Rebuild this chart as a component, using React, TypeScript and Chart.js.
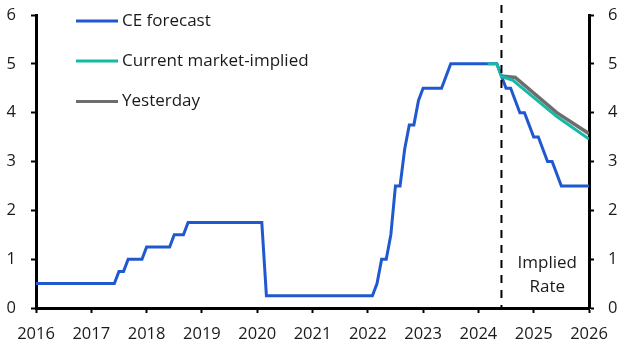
import React, { useEffect, useRef } from 'react';
import { Chart, registerables } from 'chart.js';

Chart.register(...registerables);

// Monthly CE forecast, Jan 2016 .. Jan 2026
const ceStartYear = 2016;
const ceForecast = [
  0.5, 0.5, 0.5, 0.5, 0.5, 0.5, 0.5, 0.5, 0.5, 0.5, 0.5, 0.5, // 2016
  0.5, 0.5, 0.5, 0.5, 0.5, 0.5, 0.75, 0.75, 1.0, 1.0, 1.0, 1.0, // 2017
  1.25, 1.25, 1.25, 1.25, 1.25, 1.25, 1.5, 1.5, 1.5, 1.75, 1.75, 1.75, // 2018
  1.75, 1.75, 1.75, 1.75, 1.75, 1.75, 1.75, 1.75, 1.75, 1.75, 1.75, 1.75, // 2019
  1.75, 1.75, 0.25, 0.25, 0.25, 0.25, 0.25, 0.25, 0.25, 0.25, 0.25, 0.25, // 2020
  0.25, 0.25, 0.25, 0.25, 0.25, 0.25, 0.25, 0.25, 0.25, 0.25, 0.25, 0.25, // 2021
  0.25, 0.25, 0.5, 1.0, 1.0, 1.5, 2.5, 2.5, 3.25, 3.75, 3.75, 4.25, // 2022
  4.5, 4.5, 4.5, 4.5, 4.5, 4.75, 5.0, 5.0, 5.0, 5.0, 5.0, 5.0, // 2023
  5.0, 5.0, 5.0, 5.0, 5.0, 4.75, 4.5, 4.5, 4.25, 4.0, 4.0, 3.75, // 2024
  3.5, 3.5, 3.25, 3.0, 3.0, 2.75, 2.5, 2.5, 2.5, 2.5, 2.5, 2.5, // 2025
  2.5, // Jan 2026
];

const marketDates = [2024.167, 2024.333, 2024.417, 2024.625, 2025.417, 2026.0];
const marketValues = [5.0, 5.0, 4.74, 4.66, 3.92, 3.46];

const yesterdayDates = [2024.417, 2024.667, 2025.417, 2026.0];
const yesterdayValues = [4.75, 4.72, 4.0, 3.57];

const seriesLabels = ['CE forecast', 'Current market-implied', 'Yesterday'];
const seriesColors = ['#2059cf', '#16b8a6', '#6d6d6d'];

const xMin = 2016;
const xMax = 2026;
const yMin = 0;
const yMax = 6;
const cutoffDate = 2024.417;
const annotationLines = ['Implied', 'Rate'];

const FONT = '"Open Sans", sans-serif';

export default function App() {
  const canvasRef = useRef<HTMLCanvasElement | null>(null);

  useEffect(() => {
    document.body.style.margin = '0';
    const canvas = canvasRef.current;
    if (!canvas) return;

    const cePoints = ceForecast.map((v, i) => ({ x: ceStartYear + i / 12, y: v }));
    const marketPoints = marketDates.map((d, i) => ({ x: d, y: marketValues[i] }));
    const yesterdayPoints = yesterdayDates.map((d, i) => ({ x: d, y: yesterdayValues[i] }));

    const overlay = {
      id: 'overlay',
      afterDatasetsDraw(chart: any) {
        const { ctx, chartArea, scales } = chart;
        const x = scales.x.getPixelForValue(cutoffDate);
        ctx.save();
        ctx.strokeStyle = '#000';
        ctx.lineWidth = 2;
        ctx.setLineDash([8, 7]);
        ctx.beginPath();
        ctx.moveTo(x, 5);
        ctx.lineTo(x, chartArea.bottom);
        ctx.stroke();
        ctx.setLineDash([]);

        // annotation text
        ctx.fillStyle = '#1a1a1a';
        ctx.font = `17px ${FONT}`;
        ctx.textAlign = 'center';
        ctx.textBaseline = 'middle';
        const cx = (x + chartArea.right) / 2 + 2;
        ctx.fillText(annotationLines[0], cx, 263);
        ctx.fillText(annotationLines[1], cx, 287);

        // legend
        const legendY = [21, 61, 101.5];
        ctx.textAlign = 'left';
        seriesLabels.forEach((lbl, i) => {
          ctx.strokeStyle = seriesColors[i];
          ctx.lineWidth = 3;
          ctx.beginPath();
          ctx.moveTo(76, legendY[i]);
          ctx.lineTo(118, legendY[i]);
          ctx.stroke();
          ctx.fillStyle = '#1a1a1a';
          ctx.fillText(lbl, 122, legendY[i]);
        });
        ctx.restore();
      },
    };

    const axisCommon = (pos: 'left' | 'right') => ({
      type: 'linear' as const,
      position: pos,
      min: yMin,
      max: yMax,
      ticks: {
        stepSize: 1,
        color: '#1a1a1a',
        padding: pos === 'left' ? 15 : 14,
        font: { family: FONT, size: 16.5 },
      },
      grid: {
        display: true,
        drawOnChartArea: false,
        drawTicks: true,
        tickLength: 5,
        tickWidth: 2,
        tickColor: '#000',
      },
      border: { display: true, color: '#000', width: 3 },
      afterFit(scale: any) {
        scale.width = pos === 'left' ? 36 : 40;
        scale.paddingTop = 15;
      },
    });

    const chart = new Chart(canvas, {
      type: 'line',
      data: {
        datasets: [
          {
            label: seriesLabels[0],
            data: cePoints,
            borderColor: seriesColors[0],
            borderWidth: 3,
            pointRadius: 0,
            tension: 0,
            order: 1,
            yAxisID: 'y',
          },
          {
            label: seriesLabels[1],
            data: marketPoints,
            borderColor: seriesColors[1],
            borderWidth: 3,
            pointRadius: 0,
            tension: 0,
            order: 0,
            yAxisID: 'y',
          },
          {
            label: seriesLabels[2],
            data: yesterdayPoints,
            borderColor: seriesColors[2],
            borderWidth: 3.5,
            pointRadius: 0,
            tension: 0,
            order: 2,
            yAxisID: 'y',
          },
        ],
      },
      options: {
        responsive: false,
        animation: false,
        maintainAspectRatio: false,
        layout: { padding: 0 },
        plugins: {
          legend: { display: false },
          tooltip: { enabled: false },
        },
        scales: {
          x: {
            type: 'linear',
            min: xMin,
            max: xMax,
            ticks: {
              stepSize: 1,
              color: '#1a1a1a',
              padding: 11,
              maxRotation: 0,
              font: { family: FONT, size: 16.5 },
              callback: (v: any) => String(v),
            },
            grid: {
              display: true,
              drawOnChartArea: false,
              drawTicks: true,
              tickLength: 5,
              tickWidth: 2,
              tickColor: '#000',
            },
            border: { display: true, color: '#000', width: 3 },
            afterFit(scale: any) {
              scale.height = 46;
            },
          },
          y: axisCommon('left'),
          y2: axisCommon('right'),
        },
      },
      plugins: [overlay],
    });

    return () => chart.destroy();
  }, []);

  return (
    <div style={{ width: 629, height: 354 }}>
      <canvas ref={canvasRef} width={629} height={354} style={{ display: 'block' }} />
    </div>
  );
}
